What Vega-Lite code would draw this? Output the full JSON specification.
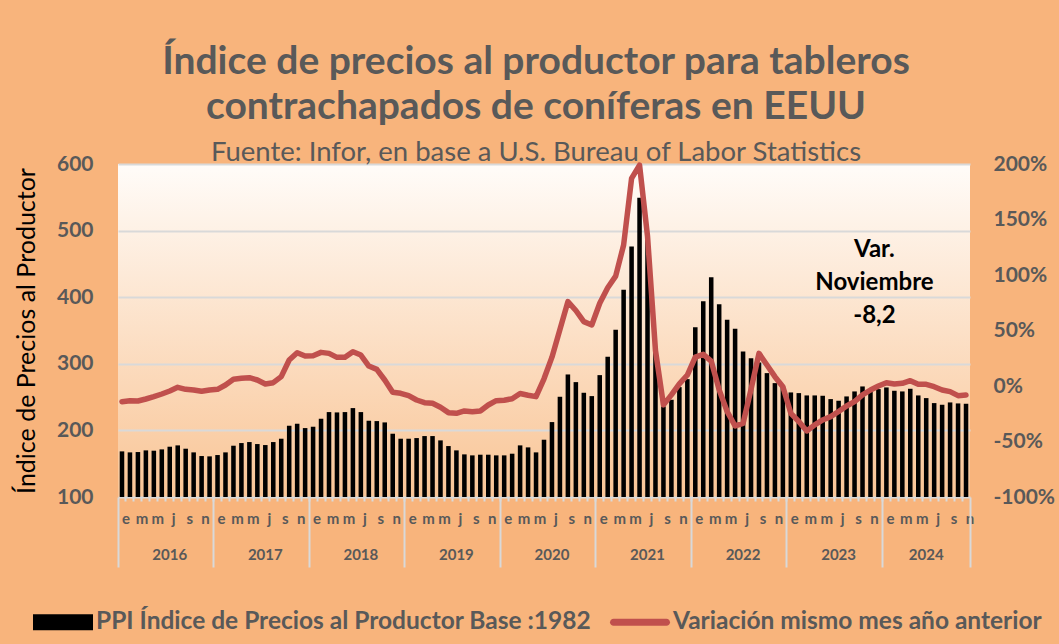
{
  "$schema": "https://vega.github.io/schema/vega-lite/v6.json",
  "width": 852,
  "height": 333,
  "autosize": {"type": "none"},
  "padding": {"left": 118, "top": 164, "right": 89, "bottom": 147},
  "background": "#F8B47C",
  "config": {
    "font": "Lato",
    "view": {
      "stroke": null,
      "fill": {"gradient": "linear", "x1": 0, "y1": 0, "x2": 0, "y2": 1,
        "stops": [{"offset": 0, "color": "#FFFCF9"}, {"offset": 1, "color": "#F9C596"}]}
    }
  },
  "title": {
    "text": ["Índice de precios al productor para tableros", "contrachapados de coníferas en EEUU"],
    "subtitle": "Fuente: Infor, en base a U.S. Bureau of Labor Statistics",
    "anchor": "middle", "frame": "group", "dx": -8,
    "font": "Lato", "fontSize": 39, "fontWeight": "bold", "color": "#595959", "lineHeight": 45,
    "subtitleFont": "Lato", "subtitleFontSize": 27.5, "subtitleColor": "#595959", "subtitlePadding": 12,
    "offset": -13
  },
  "data": {"values": [
    {"mes": "2016-01", "ppi": 168.5, "var": -14.1},
    {"mes": "2016-02", "ppi": 167, "var": -13.2},
    {"mes": "2016-03", "ppi": 167.5, "var": -13.5},
    {"mes": "2016-04", "ppi": 170, "var": -11.7},
    {"mes": "2016-05", "ppi": 169.5, "var": -9.6},
    {"mes": "2016-06", "ppi": 171.5, "var": -7.2},
    {"mes": "2016-07", "ppi": 175.5, "var": -4.5},
    {"mes": "2016-08", "ppi": 177.5, "var": -1.2},
    {"mes": "2016-09", "ppi": 172.5, "var": -3},
    {"mes": "2016-10", "ppi": 167, "var": -3.6},
    {"mes": "2016-11", "ppi": 161.5, "var": -4.8},
    {"mes": "2016-12", "ppi": 161, "var": -3.6},
    {"mes": "2017-01", "ppi": 163, "var": -3},
    {"mes": "2017-02", "ppi": 167, "var": 0.9},
    {"mes": "2017-03", "ppi": 177, "var": 6},
    {"mes": "2017-04", "ppi": 181, "var": 6.9},
    {"mes": "2017-05", "ppi": 182.5, "var": 7.5},
    {"mes": "2017-06", "ppi": 179.5, "var": 5.4},
    {"mes": "2017-07", "ppi": 178, "var": 1.8},
    {"mes": "2017-08", "ppi": 182.5, "var": 3},
    {"mes": "2017-09", "ppi": 187.5, "var": 8.4},
    {"mes": "2017-10", "ppi": 207, "var": 23.4},
    {"mes": "2017-11", "ppi": 210, "var": 30},
    {"mes": "2017-12", "ppi": 203.5, "var": 27},
    {"mes": "2018-01", "ppi": 205.5, "var": 27.3},
    {"mes": "2018-02", "ppi": 217.5, "var": 30.3},
    {"mes": "2018-03", "ppi": 227.5, "var": 29.4},
    {"mes": "2018-04", "ppi": 227, "var": 25.8},
    {"mes": "2018-05", "ppi": 227.5, "var": 25.8},
    {"mes": "2018-06", "ppi": 233.5, "var": 30.9},
    {"mes": "2018-07", "ppi": 227.5, "var": 27.9},
    {"mes": "2018-08", "ppi": 214.5, "var": 18},
    {"mes": "2018-09", "ppi": 214, "var": 15},
    {"mes": "2018-10", "ppi": 212, "var": 5.4},
    {"mes": "2018-11", "ppi": 195, "var": -5.7},
    {"mes": "2018-12", "ppi": 187.5, "var": -6.6},
    {"mes": "2019-01", "ppi": 187.5, "var": -8.7},
    {"mes": "2019-02", "ppi": 188.5, "var": -12.6},
    {"mes": "2019-03", "ppi": 191.5, "var": -15},
    {"mes": "2019-04", "ppi": 191.5, "var": -15.6},
    {"mes": "2019-05", "ppi": 185, "var": -19.2},
    {"mes": "2019-06", "ppi": 176.5, "var": -24},
    {"mes": "2019-07", "ppi": 170, "var": -24.6},
    {"mes": "2019-08", "ppi": 164, "var": -22.5},
    {"mes": "2019-09", "ppi": 162.5, "var": -23.1},
    {"mes": "2019-10", "ppi": 163.5, "var": -22.5},
    {"mes": "2019-11", "ppi": 163.5, "var": -17.1},
    {"mes": "2019-12", "ppi": 162.5, "var": -13.2},
    {"mes": "2020-01", "ppi": 162.5, "var": -12.8},
    {"mes": "2020-02", "ppi": 165, "var": -11.5},
    {"mes": "2020-03", "ppi": 177.5, "var": -6.8},
    {"mes": "2020-04", "ppi": 174.5, "var": -8.3},
    {"mes": "2020-05", "ppi": 167, "var": -9.6},
    {"mes": "2020-06", "ppi": 186, "var": 6.5},
    {"mes": "2020-07", "ppi": 212.5, "var": 26},
    {"mes": "2020-08", "ppi": 250.5, "var": 51},
    {"mes": "2020-09", "ppi": 284, "var": 76},
    {"mes": "2020-10", "ppi": 272.5, "var": 68},
    {"mes": "2020-11", "ppi": 256.5, "var": 58},
    {"mes": "2020-12", "ppi": 251.5, "var": 55},
    {"mes": "2021-01", "ppi": 283, "var": 74.5},
    {"mes": "2021-02", "ppi": 310.5, "var": 88.5},
    {"mes": "2021-03", "ppi": 351, "var": 99},
    {"mes": "2021-04", "ppi": 411, "var": 127},
    {"mes": "2021-05", "ppi": 476, "var": 187},
    {"mes": "2021-06", "ppi": 549.5, "var": 199},
    {"mes": "2021-07", "ppi": 490, "var": 135},
    {"mes": "2021-08", "ppi": 322, "var": 32},
    {"mes": "2021-09", "ppi": 236, "var": -17},
    {"mes": "2021-10", "ppi": 246, "var": -8},
    {"mes": "2021-11", "ppi": 265, "var": 2},
    {"mes": "2021-12", "ppi": 277, "var": 9.9},
    {"mes": "2022-01", "ppi": 355, "var": 26},
    {"mes": "2022-02", "ppi": 394, "var": 28.5},
    {"mes": "2022-03", "ppi": 430, "var": 22.5},
    {"mes": "2022-04", "ppi": 389.5, "var": -3.5},
    {"mes": "2022-05", "ppi": 366, "var": -23},
    {"mes": "2022-06", "ppi": 352.5, "var": -36},
    {"mes": "2022-07", "ppi": 318.5, "var": -33.6},
    {"mes": "2022-08", "ppi": 308.5, "var": -3},
    {"mes": "2022-09", "ppi": 302, "var": 29.4},
    {"mes": "2022-10", "ppi": 286, "var": 18.9},
    {"mes": "2022-11", "ppi": 271, "var": 8.4},
    {"mes": "2022-12", "ppi": 266, "var": -0.6},
    {"mes": "2023-01", "ppi": 257, "var": -24.6},
    {"mes": "2023-02", "ppi": 256, "var": -32},
    {"mes": "2023-03", "ppi": 252.5, "var": -40.5},
    {"mes": "2023-04", "ppi": 252.5, "var": -35},
    {"mes": "2023-05", "ppi": 252, "var": -30.6},
    {"mes": "2023-06", "ppi": 247, "var": -27.6},
    {"mes": "2023-07", "ppi": 244.5, "var": -23},
    {"mes": "2023-08", "ppi": 251, "var": -18},
    {"mes": "2023-09", "ppi": 258.5, "var": -14},
    {"mes": "2023-10", "ppi": 266, "var": -8},
    {"mes": "2023-11", "ppi": 261, "var": -3.6},
    {"mes": "2023-12", "ppi": 262, "var": 0},
    {"mes": "2024-01", "ppi": 264.5, "var": 3},
    {"mes": "2024-02", "ppi": 259.5, "var": 1.8},
    {"mes": "2024-03", "ppi": 258.5, "var": 2.4},
    {"mes": "2024-04", "ppi": 262.5, "var": 4.8},
    {"mes": "2024-05", "ppi": 252.5, "var": 1.5},
    {"mes": "2024-06", "ppi": 248.5, "var": 1.5},
    {"mes": "2024-07", "ppi": 241, "var": -0.6},
    {"mes": "2024-08", "ppi": 238.5, "var": -3.6},
    {"mes": "2024-09", "ppi": 242, "var": -5.1},
    {"mes": "2024-10", "ppi": 240.5, "var": -8.7},
    {"mes": "2024-11", "ppi": 240, "var": -8.2}
  ]},
  "layer": [
    {
      "mark": {"type": "bar", "width": {"band": 0.57}},
      "encoding": {
        "x": {
          "field": "mes", "type": "ordinal",
          "scale": {"paddingInner": 0, "paddingOuter": 0},
          "axis": {
            "orient": "bottom", "title": null, "bandPosition": 0, "labelOffset": 4, "labelAngle": 0,
            "labelExpr": "['e','','m','','m','','j','','s','','n',''][toNumber(substring(datum.value,5,7))-1]",
            "labelFont": "Lato", "labelFontSize": 15, "labelFontWeight": "bold", "labelColor": "#595959",
            "labelPadding": -56, "labelOverlap": false, "labelBound": false, "labelFlush": false,
            "domain": false, "grid": false,
            "tickSize": 70, "tickWidth": 2,
            "tickColor": {"condition": {"test": "substring(datum.value,5,7) == '01'", "value": "#D9D9D9"}, "value": "transparent"}
          }
        },
        "y": {
          "field": "ppi", "type": "quantitative",
          "scale": {"domain": [100, 600], "zero": false, "nice": false},
          "axis": {
            "orient": "left", "values": [100, 200, 300, 400, 500, 600],
            "grid": true, "gridColor": "#D9D9D9", "gridWidth": 2,
            "domain": false, "ticks": false,
            "labelFont": "Lato", "labelFontSize": 21, "labelFontWeight": "bold", "labelColor": "#595959", "labelPadding": 25,
            "title": "Índice de Precios al Productor", "titleFont": "Lato", "titleFontSize": 25,
            "titleFontWeight": "normal", "titleColor": "#000000", "titlePadding": 17
          }
        },
        "y2": {"datum": 100},
        "color": {
          "datum": "PPI Índice de Precios al Productor Base :1982", "type": "nominal",
          "scale": {"domain": ["PPI Índice de Precios al Productor Base :1982", "Variación mismo mes año anterior"], "range": ["#000000", "#C0504D"]},
          "legend": {
            "orient": "none", "legendX": -85, "legendY": 428, "direction": "horizontal", "title": null,
            "labelFont": "Lato", "labelFontSize": 24.5, "labelFontWeight": "bold", "labelColor": "#595959", "labelLimit": 700,
            "labelOffset": 3, "columnPadding": 18, "symbolSize": 3600, "symbolType": "M-1,-0.27H1V0.27H-1Z",
            "encode": {"symbols": {"update": {
              "shape": {"signal": "datum.value === 'Variación mismo mes año anterior' ? 'M-0.88,-0.12H0.88A0.12,0.12 0 0 1 0.88,0.12H-0.88A0.12,0.12 0 0 1 -0.88,-0.12Z' : 'M-1,-0.27H1V0.27H-1Z'"},
              "fill": {"scale": "color", "field": "value"},
              "stroke": {"value": "transparent"},
              "strokeWidth": {"value": 0},
              "opacity": {"value": 1}
            }}}
          }
        }
      }
    },
    {
      "mark": {"type": "line", "strokeWidth": 5.5, "strokeCap": "round", "strokeJoin": "round"},
      "encoding": {
        "x": {
          "field": "mes", "type": "ordinal",
          "axis": {
            "orient": "bottom", "title": null, "bandPosition": 0, "labelAngle": 0,
            "values": ["2016-07", "2017-07", "2018-07", "2019-07", "2020-07", "2021-07", "2022-07", "2023-07", "2024-06"],
            "labelExpr": "substring(datum.value,0,4)",
            "labelFont": "Lato", "labelFontSize": 15, "labelFontWeight": "bold", "labelColor": "#595959",
            "labelPadding": 50, "labelOverlap": false, "labelBound": false, "labelFlush": false,
            "ticks": false, "domain": false, "grid": false
          }
        },
        "y": {
          "field": "var", "type": "quantitative",
          "scale": {"domain": [-100, 200], "zero": false, "nice": false},
          "axis": {
            "orient": "right", "values": [-100, -50, 0, 50, 100, 150, 200],
            "labelExpr": "datum.value + '%'",
            "grid": false, "domain": false, "ticks": false, "title": null,
            "labelFont": "Lato", "labelFontSize": 21, "labelFontWeight": "bold", "labelColor": "#595959", "labelPadding": 23
          }
        },
        "color": {"datum": "Variación mismo mes año anterior", "type": "nominal"}
      }
    },
    {
      "data": {"values": [{"nota": "Var. Noviembre -8,2"}]},
      "mark": {"type": "text", "font": "Lato", "fontSize": 24, "fontWeight": "bold", "color": "#000000",
               "lineHeight": 33, "align": "center", "baseline": "middle"},
      "encoding": {
        "x": {
          "datum": "2023-12", "type": "ordinal", "bandPosition": 0,
          "axis": {
            "orient": "bottom", "title": null, "bandPosition": 1,
            "labels": false, "domain": false, "grid": false,
            "ticks": true, "tickWidth": 2,
            "tickSize": {"condition": {"test": "datum.value == '2024-11'", "value": 70}, "value": 4},
            "tickColor": "#D9D9D9"
          }
        },
        "y": {
          "datum": 471, "type": "quantitative",
          "scale": {"domain": [100, 600], "zero": false, "nice": false},
          "axis": null
        },
        "text": {"value": ["Var.", "Noviembre", "-8,2"]}
      }
    }
  ],
  "resolve": {"scale": {"y": "independent"}, "axis": {"x": "independent", "y": "independent"}}
}
